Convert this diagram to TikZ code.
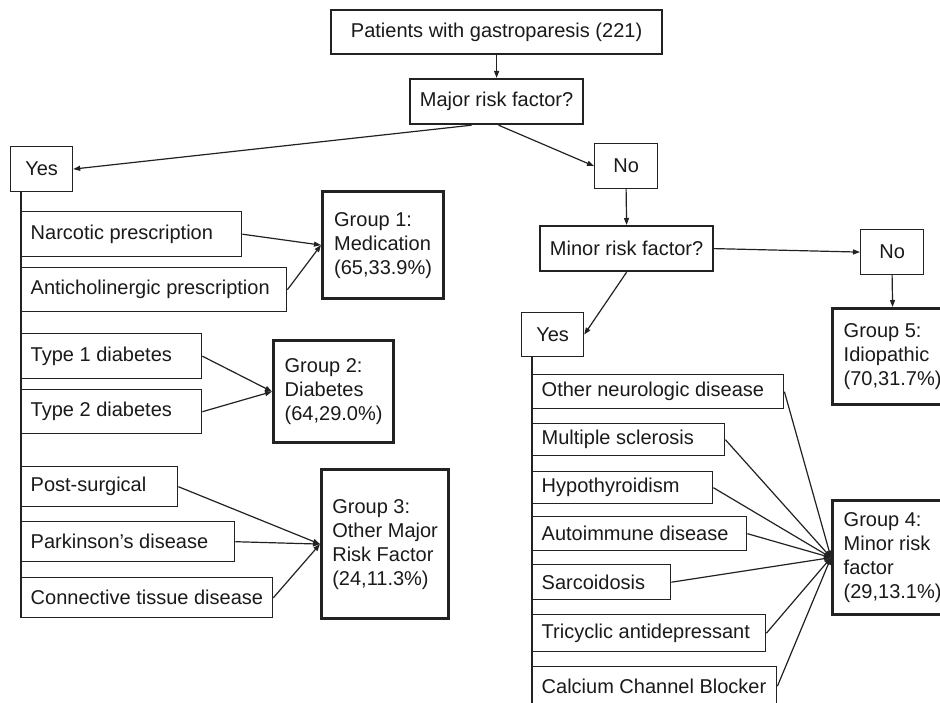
\documentclass[tikz,border=0pt]{standalone}
\usepackage{fontspec}
\setmainfont{Liberation Sans}
\usetikzlibrary{arrows.meta,calc}
\definecolor{lc}{HTML}{222222}
\definecolor{tc}{HTML}{1A1A1A}
\newcommand{\itembox}[2]{\makebox[\dimexpr#1pt-18pt\relax][l]{#2}}
\begin{document}
\begin{tikzpicture}[x=1pt,y=-1pt,
  every node/.style={font=\fontsize{20}{24}\selectfont, text=tc},
  bx/.style={draw=lc, rectangle, anchor=north west, inner sep=0pt, align=center},
  itm/.style={bx, line width=1.4pt, inner xsep=9pt, inner ysep=0pt},
  yn/.style={bx, line width=1.2pt},
  qbox/.style={bx, line width=2.2pt},
  grp/.style={bx, line width=3.2pt, align=left},
  con/.style={draw=lc, line width=1.2pt},
  arr/.style={con, -{Triangle[length=7pt,width=5pt]}},
]
\fill[white] (0,0) rectangle (940,703);
\useasboundingbox (0,0) rectangle (940,703);

% question boxes
\node[qbox, minimum width=331pt, minimum height=44pt] (top) at (330,9) {Patients with gastroparesis (221)};
\node[qbox, minimum width=173pt, minimum height=45pt] (major) at (409,78) {Major risk factor?};
\node[yn, minimum width=62pt, minimum height=45pt] (yesL) at (10,146) {Yes};
\node[yn, minimum width=63pt, minimum height=45pt] (noA) at (594,143) {No};
\node[qbox, minimum width=173pt, minimum height=45pt] (minor) at (539,225) {Minor risk factor?};
\node[yn, minimum width=63pt, minimum height=45pt] (noB) at (860,229) {No};
\node[yn, minimum width=62pt, minimum height=44pt] (yesB) at (521,312) {Yes};

% group boxes
\node[grp, minimum width=121pt, minimum height=107pt] (g1) at (321,190) {Group 1:\\Medication\\(65,33.9\%)};
\node[grp, minimum width=120pt, minimum height=102pt] (g2) at (272,339) {Group 2:\\Diabetes\\(64,29.0\%)};
\node[grp, minimum width=127pt, minimum height=149pt] (g3) at (320,468) {Group 3:\\Other Major\\Risk Factor\\(24,11.3\%)};
\node[grp, minimum width=120pt, minimum height=96pt] (g5) at (831,307) {Group 5:\\Idiopathic\\(70,31.7\%)};
\node[grp, minimum width=120pt, minimum height=114pt] (g4) at (831,499) {Group 4:\\Minor risk\\factor\\(29,13.1\%)};

% left items
\node[itm, minimum height=45pt] (narc) at (21,211) {\itembox{220}{Narcotic prescription}};
\node[itm, minimum height=44pt] (anti) at (21,267) {\itembox{265}{Anticholinergic prescription}};
\node[itm, minimum height=45pt] (t1) at (21,333) {\itembox{180}{Type 1 diabetes}};
\node[itm, minimum height=44pt] (t2) at (21,389) {\itembox{180}{Type 2 diabetes}};
\node[itm, minimum height=40pt] (post) at (21,466) {\itembox{156}{Post-surgical}};
\node[itm, minimum height=40pt] (park) at (21,521) {\itembox{213}{Parkinson’s disease}};
\node[itm, minimum height=40pt] (conn) at (21,577) {\itembox{251}{Connective tissue disease}};

% right items
\node[itm, minimum height=34pt] (oth) at (532,374) {\itembox{251}{Other neurologic disease}};
\node[itm, minimum height=32pt] (ms) at (532,423) {\itembox{192}{Multiple sclerosis}};
\node[itm, minimum height=32pt] (hypo) at (532,471) {\itembox{180}{Hypothyroidism}};
\node[itm, minimum height=34pt] (auto) at (532,516) {\itembox{214}{Autoimmune disease}};
\node[itm, minimum height=35pt] (sarc) at (532,564) {\itembox{138}{Sarcoidosis}};
\node[itm, minimum height=37pt] (tri) at (532,614) {\itembox{233}{Tricyclic antidepressant}};
\node[itm, minimum height=39pt] (calc) at (532,666) {\itembox{244}{Calcium Channel Blocker}};

% flow arrows
\draw[arr] (top.south) -- (major.north);
\draw[arr] ([xshift=-25pt]major.south) -- (yesL.east);
\draw[arr] ([xshift=2pt]major.south) -- (noA.west);
\draw[arr] (noA.south) -- (minor.north);
\draw[arr] (minor.east) -- (noB.west);
\draw[arr] (noB.south) -- (g5.north);
\draw[arr] (minor.south) -- (yesB.east);

% spines
\draw[con] (yesL.south -| conn.west) -- (conn.south west);
\draw[con] (yesB.south -| calc.west) -- (calc.south west);

% items to groups
\draw[arr] (narc.east) -- (g1.west);
\draw[arr] (anti.east) -- (g1.west);
\draw[arr] (t1.east) -- (g2.west);
\draw[arr] (t2.east) -- (g2.west);
\draw[arr] (post.east) -- (g3.west);
\draw[arr] (park.east) -- (g3.west);
\draw[arr] (conn.east) -- (g3.west);
\foreach \n in {oth,ms,hypo,auto,sarc,tri,calc}
  \draw[arr] (\n.east) -- (g4.west);
\end{tikzpicture}
\end{document}
